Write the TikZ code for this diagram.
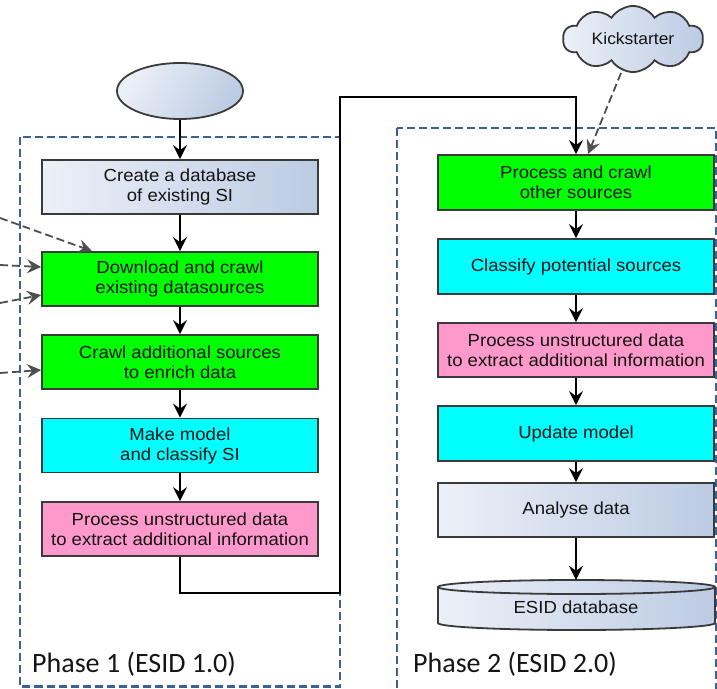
\documentclass[tikz,border=0pt]{standalone}
\usepackage{fontspec}
\setmainfont{Liberation Sans}
\newfontfamily\boxfont[FakeStretch=1.06]{Liberation Sans}
\newfontfamily\phasefont{Carlito}
\usetikzlibrary{shapes.geometric,shapes.symbols,arrows.meta}
\definecolor{bgreen}{HTML}{00FF00}
\definecolor{bcyan}{HTML}{00FFFF}
\definecolor{bpink}{HTML}{FF99CC}
\definecolor{glight}{HTML}{ECF0F8}
\definecolor{gdark}{HTML}{BCCBE3}
\definecolor{phaseblue}{HTML}{3D6292}
\definecolor{edge}{HTML}{3A3A3A}
\definecolor{txt}{HTML}{141414}
\tikzset{
  proc/.style={draw=edge, line width=1.8pt, minimum width=276pt, minimum height=54pt,
    align=center, inner sep=2pt, font=\boxfont\fontsize{17.5}{20}\selectfont, text=txt},
  greenbox/.style={proc, fill=bgreen},
  cyanbox/.style={proc, fill=bcyan},
  pinkbox/.style={proc, fill=bpink},
  gradbox/.style={proc, left color=glight, right color=gdark},
  flow/.style={draw=black, line width=1.8pt, -{Stealth[length=14pt,width=14pt,inset=5pt]}},
  feed/.style={draw=edge!90, line width=1.8pt, dash pattern=on 8pt off 4pt,
    -{Stealth[length=14pt,width=14pt,inset=5pt]}},
  phasebox/.style={draw=phaseblue, line width=2.6pt, dash pattern=on 8pt off 4pt},
  phaselabel/.style={anchor=west, font=\phasefont\fontsize{28}{30}\selectfont, text=txt, inner sep=0pt}
}
\begin{document}
\begin{tikzpicture}[x=1pt,y=-1pt]
\useasboundingbox (0,0) rectangle (717,688);
\clip (0,0) rectangle (717,688);
% phase containers
\draw[phasebox] (20,137) rectangle (340,686.5);
\draw[phasebox] (397,128) rectangle (716,700);
\node[phaselabel] (ph1) at (32,664) {Phase 1 (ESID 1.0)};
\node[phaselabel] (ph2) at (413,664) {Phase 2 (ESID 2.0)};
% phase 1
\node[ellipse, draw=edge, line width=1.8pt, minimum width=126pt, minimum height=56pt,
  shading=axis, left color=glight, right color=gdark, shading angle=60] (start) at (180,91) {};
\node[gradbox] (b1) at (180,187) {Create a database\\of existing SI};
\node[greenbox] (b2) at (180,279) {Download and crawl\\existing datasources};
\node[greenbox] (b3) at (180,362) {Crawl additional sources\\to enrich data};
\node[cyanbox] (b4) at (180,445.5) {Make model\\and classify SI};
\node[pinkbox] (b5) at (180,529) {Process unstructured data\\to extract additional information};
% phase 2
\node[greenbox, minimum height=55pt] (c1) at (576,182.5) {Process and crawl\\other sources};
\node[cyanbox, minimum height=55pt] (c2) at (576,266.5) {Classify potential sources};
\node[pinkbox] (c3) at (576,350) {Process unstructured data\\to extract additional information};
\node[cyanbox, minimum height=55pt] (c4) at (576,433.5) {Update model};
\node[gradbox] (c5) at (576,510) {Analyse data};
% database cylinder
\node[minimum width=276pt, minimum height=50pt, inner sep=0pt] (db) at (576,605) {};
\fill[left color=glight, right color=gdark]
  (438,587) -- (438,623) arc[start angle=180, end angle=360, x radius=138.5pt, y radius=7pt]
  -- (715,587) arc[start angle=0, end angle=180, x radius=138.5pt, y radius=7pt] -- cycle;
\draw[edge, line width=1.8pt]
  (438,587) -- (438,623) arc[start angle=180, end angle=360, x radius=138.5pt, y radius=7pt]
  -- (715,587);
\draw[edge, line width=1.8pt] (576.5,587) ellipse[x radius=138.5pt, y radius=7pt];
\node[font=\boxfont\fontsize{17.5}{20}\selectfont, text=txt] (dbt) at (576,607) {ESID database};
% kickstarter
\node[cloud, cloud puffs=10, cloud puff arc=115, aspect=2.4, draw=edge, line width=1.8pt,
  minimum width=140pt, minimum height=60pt, inner sep=0pt,
  left color=glight, right color=gdark,
  font=\boxfont\fontsize{16.5}{18}\selectfont, text=txt] (kick) at (633,39) {Kickstarter};
% flow arrows
\draw[flow] (start) -- (b1);
\draw[flow] (b1) -- (b2);
\draw[flow] (b2) -- (b3);
\draw[flow] (b3) -- (b4);
\draw[flow] (b4) -- (b5);
\coordinate (t1) at (340,593);
\coordinate (t2) at (340,97);
\draw[flow] (b5.south) |- (t1) -- (t2) -| (c1.north);
\draw[flow] (c1) -- (c2);
\draw[flow] (c2) -- (c3);
\draw[flow] (c3) -- (c4);
\draw[flow] (c4) -- (c5);
\draw[flow] (c5) -- (db.north);
% dashed feeds
\draw[feed] ([xshift=-12pt]kick.south) -- ([xshift=12pt]c1.north);
\coordinate (s1) at (0,218);
\coordinate (s2) at (0,265);
\coordinate (s3) at (0,303);
\coordinate (s4) at (0,373);
\draw[feed] (s1) -- ([xshift=-88pt]b2.north);
\draw[feed] (s2) -- ([yshift=12pt]b2.west);
\draw[feed] (s3) -- ([yshift=-16pt]b2.west);
\draw[feed] (s4) -- ([yshift=-8pt]b3.west);
\end{tikzpicture}
\end{document}
